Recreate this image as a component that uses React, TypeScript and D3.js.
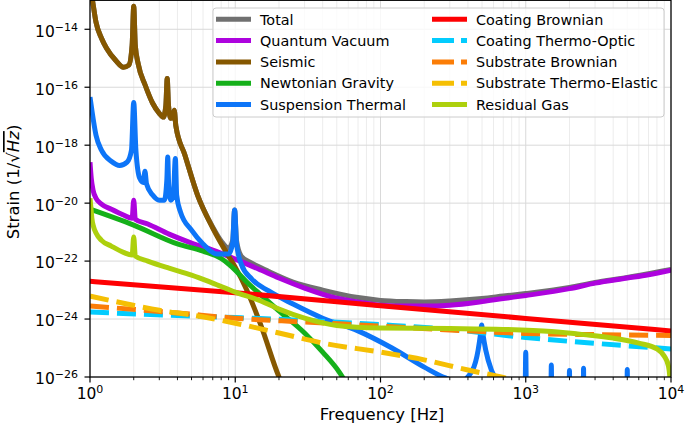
import React from 'react';
import * as d3 from 'd3';

type Pt = [number, number]; // [frequency (Hz), strain (1/sqrt(Hz))]

const total: Pt[] = [
  [1.0, 3.3e-13], [1.04, 1.0e-13], [1.1, 1.74e-14], [1.2, 4.9e-15], [1.3, 2.2e-15], [1.5, 8.5e-16],
  [1.7, 4.9e-16], [1.85, 5.8e-16], [1.95, 2.8e-15], [2.0, 6.2e-14], [2.05, 2.8e-15], [2.15, 6.2e-16],
  [2.4, 1.17e-16], [2.7, 2.8e-17], [3.0, 1.26e-17], [3.2, 9.3e-18], [3.33, 2.4e-17], [3.4, 2.0e-16],
  [3.47, 2.4e-17], [3.6, 8.5e-18], [3.72, 9.3e-18], [3.8, 1.62e-17], [3.9, 4.6e-18], [4.5, 4.6e-19],
  [5.5, 1.9e-20], [7.0, 1.48e-21], [8.0, 4.9e-22], [9.0, 2.8e-22], [9.6, 5.2e-22], [9.9, 5.8e-21],
  [10.2, 5.2e-22], [11, 1.48e-22], [13, 8.5e-23], [17, 4.4e-23], [25, 1.9e-23], [40, 1.0e-23],
  [70, 5.5e-24], [100, 4.4e-24], [150, 4.0e-24], [200, 3.9e-24], [300, 4.2e-24], [500, 5.1e-24],
  [700, 6.2e-24], [1000, 7.6e-24], [2000, 1.23e-23], [3000, 1.82e-23], [5000, 2.7e-23], [10000, 5.1e-23],
];

const quantumVacuum: Pt[] = [
  [1.0, 2.6e-19], [1.02, 7.2e-20], [1.05, 2.8e-20], [1.1, 1.48e-20], [1.2, 9.3e-21], [1.4, 6.2e-21],
  [1.7, 3.9e-21], [1.95, 3.0e-21], [2.0, 1.26e-20], [2.05, 2.8e-21], [2.5, 1.9e-21], [3.5, 8.5e-22],
  [5, 4.2e-22], [7, 2.4e-22], [10, 1.17e-22], [15, 4.9e-23], [20, 2.6e-23], [30, 1.17e-23],
  [50, 5.2e-24], [70, 3.9e-24], [100, 3.0e-24], [150, 2.8e-24], [200, 2.8e-24], [300, 3.0e-24],
  [500, 4.0e-24], [700, 5.1e-24], [1000, 6.5e-24], [2000, 1.12e-23], [3000, 1.74e-23], [5000, 2.6e-23],
  [7000, 3.4e-23], [10000, 4.9e-23],
];

const seismic: Pt[] = [
  [1.0, 3.3e-13], [1.04, 1.0e-13], [1.1, 1.74e-14], [1.2, 4.9e-15], [1.3, 2.2e-15], [1.5, 8.5e-16],
  [1.7, 4.9e-16], [1.85, 5.8e-16], [1.95, 2.8e-15], [2.0, 6.2e-14], [2.05, 2.8e-15], [2.15, 6.2e-16],
  [2.4, 1.17e-16], [2.7, 2.8e-17], [3.0, 1.26e-17], [3.2, 9.3e-18], [3.33, 2.4e-17], [3.4, 2.0e-16],
  [3.47, 2.4e-17], [3.6, 8.5e-18], [3.72, 9.3e-18], [3.8, 1.62e-17], [3.9, 4.6e-18], [4.5, 4.6e-19],
  [5.5, 1.9e-20], [7.0, 1.38e-21], [9.0, 1.48e-22], [10, 6.2e-23], [12, 1.0e-23], [15, 6.2e-25],
  [20, 1.0e-26], [24, 1.4e-27],
];

const newtonianGravity: Pt[] = [
  [1.0, 6.2e-21], [2.0, 1.74e-21], [4, 3.9e-22], [6, 2.2e-22], [8, 1.23e-22], [9, 7.9e-23],
  [10, 4.9e-23], [12, 1.9e-23], [15, 6.8e-24], [20, 1.9e-24], [30, 3.3e-25], [40, 7.2e-26],
  [52, 1.48e-26], [58, 6.2e-27],
];

const suspensionThermal: Pt[] = [
  [1.0, 4.6e-17], [1.03, 1.62e-17], [1.1, 2.2e-18], [1.2, 6.7e-19], [1.4, 2.8e-19], [1.6, 2.0e-19],
  [1.8, 2.6e-19], [1.93, 6.7e-19], [2.0, 3.0e-17], [2.07, 6.7e-19], [2.2, 7.2e-20], [2.33, 5.2e-20],
  [2.39, 1.26e-19], [2.45, 4.6e-20], [2.7, 1.9e-20], [3.0, 1.26e-20], [3.25, 1.26e-20], [3.38, 6.2e-20],
  [3.43, 3.9e-19], [3.48, 4.2e-20], [3.6, 1.26e-20], [3.75, 1.9e-20], [3.87, 3.5e-19], [3.95, 1.9e-20],
  [4.2, 4.9e-21], [5, 1.17e-21], [6, 3.9e-22], [7.5, 1.74e-22], [9.0, 1.74e-22], [9.6, 4.2e-22],
  [9.9, 5.8e-21], [10.2, 4.2e-22], [11, 7.9e-23], [13, 2.4e-23], [17, 9.3e-24], [25, 3.3e-24],
  [40, 1.07e-24], [70, 3.9e-25], [120, 1.0e-25], [200, 2.2e-26], [280, 9.3e-27], [350, 6.8e-27],
  [430, 1.74e-26], [470, 8.5e-26], [490, 3.5e-25], [497, 6.2e-25], [505, 3.5e-25], [530, 8.5e-26],
  [580, 1.74e-26], [650, 6.8e-27], [800, 2.4e-27], [990, 3.5e-27], [1000, 7.2e-26], [1010, 3.5e-27],
  [1250, 1.6e-27], [1490, 2.6e-27], [1500, 2.6e-26], [1510, 2.6e-27], [1750, 1.6e-27], [1990, 2.6e-27],
  [2000, 1.66e-26], [2010, 2.6e-27], [2250, 1.6e-27], [2490, 2.6e-27], [2500, 2.0e-26], [2510, 2.6e-27],
  [3500, 1.4e-27], [4980, 2.6e-27], [5000, 1.8e-26], [5020, 2.6e-27], [7000, 1.4e-27], [10000, 1.4e-27],
];

const coatingBrownian: Pt[] = [
  [1, 2.0e-23], [10, 8.1e-24], [100, 2.9e-24], [1000, 1.05e-24], [10000, 3.9e-25],
];

const coatingThermoOptic: Pt[] = [
  [1, 1.74e-24], [4, 1.32e-24], [10, 1.12e-24], [30, 8.9e-25], [100, 6.4e-25], [300, 4.4e-25],
  [1000, 2.3e-25], [3000, 1.45e-25], [10000, 9.3e-26],
];

const substrateBrownian: Pt[] = [
  [1, 2.8e-24], [4, 1.62e-24], [10, 1.07e-24], [30, 7.9e-25], [100, 5.7e-25], [300, 4.2e-25],
  [1000, 3.2e-25], [3000, 2.9e-25], [10000, 2.7e-25],
];

const substrateThermoElastic: Pt[] = [
  [1, 6.2e-24], [1.8, 3.3e-24], [3, 2.0e-24], [5, 1.38e-24], [10, 7.2e-25], [20, 3.3e-25],
  [40, 1.48e-25], [100, 7.2e-26], [200, 3.9e-26], [400, 1.74e-26], [700, 9.6e-27], [1000, 6.2e-27],
];

const residualGas: Pt[] = [
  [1.0, 1.48e-20], [1.015, 6.8e-21], [1.03, 3.0e-21], [1.06, 1.48e-21], [1.1, 9.3e-22], [1.2, 5.2e-22],
  [1.4, 3.3e-22], [1.7, 2.0e-22], [1.95, 1.62e-22], [2.0, 6.8e-22], [2.05, 1.48e-22], [2.5, 1.0e-22],
  [3.5, 5.7e-23], [5, 3.3e-23], [7, 1.74e-23], [10, 8.5e-24], [15, 4.2e-24], [20, 2.2e-24],
  [30, 1.07e-24], [50, 6.0e-25], [100, 4.9e-25], [300, 4.7e-25], [700, 4.4e-25], [1500, 3.7e-25],
  [2500, 2.9e-25], [4000, 2.2e-25], [6000, 1.48e-25], [8000, 9.3e-26], [9000, 5.2e-26], [9600, 2.4e-26],
  [9850, 7.9e-27], [10000, 1.6e-27],
];

const seriesLabels = [
  'Total', 'Quantum Vacuum', 'Seismic', 'Newtonian Gravity', 'Suspension Thermal',
  'Coating Brownian', 'Coating Thermo-Optic', 'Substrate Brownian', 'Substrate Thermo-Elastic', 'Residual Gas',
];
const xTickExponents = [0, 1, 2, 3, 4];
const yTickExponents = [-26, -24, -22, -20, -18, -16, -14];

// ---- styling / layout ----
const W = 685;
const H = 432;
const PL = 90, PR = 671, PT = 0.3, PB = 377;
const COLORS = ['#707070', '#ad03de', '#855700', '#15b01a', '#0d75f8', '#fe0002', '#02ccfe', '#fb7d07', '#f5bf03', '#add00d'];
const DASHED = [false, false, false, false, false, false, true, true, true, false];
const FONT = 'DejaVu Sans, sans-serif';
const LW = 5;

export default function App() {
  const series = [total, quantumVacuum, seismic, newtonianGravity, suspensionThermal,
    coatingBrownian, coatingThermoOptic, substrateBrownian, substrateThermoElastic, residualGas];

  const x = d3.scaleLog().domain([1, 1e4]).range([PL, PR]);
  const y = d3.scaleLog().domain([1e-26, 1e-13]).range([PB, PT]);
  const line = d3.line<Pt>().x(d => x(d[0])).y(d => y(d[1])).curve(d3.curveMonotoneX);

  const minorX: number[] = [];
  for (let e = 0; e < 4; e++) for (let k = 2; k <= 9; k++) minorX.push(k * Math.pow(10, e));

  const legendRowY = (i: number) => 19.3 + i * 21.3;

  return (
    <svg width={W} height={H} style={{ position: 'absolute', left: 0, top: 0, background: '#fff' }}
      fontFamily={FONT}>
      <defs>
        <clipPath id="plotclip">
          <rect x={PL} y={PT} width={PR - PL} height={PB - PT} />
        </clipPath>
      </defs>
      {/* grid */}
      <g>
        {minorX.map((f, i) => (
          <line key={'mg' + i} x1={x(f)} x2={x(f)} y1={PT} y2={PB} stroke="#ececec" strokeWidth={1} />
        ))}
        {xTickExponents.map(e => (
          <line key={'xg' + e} x1={x(Math.pow(10, e))} x2={x(Math.pow(10, e))} y1={PT} y2={PB} stroke="#d9d9d9" strokeWidth={1} />
        ))}
        {yTickExponents.map(e => (
          <line key={'yg' + e} x1={PL} x2={PR} y1={y(Math.pow(10, e))} y2={y(Math.pow(10, e))} stroke="#d9d9d9" strokeWidth={1} />
        ))}
      </g>
      {/* curves */}
      <g clipPath="url(#plotclip)">
        {series.map((s, i) => (
          <path key={'s' + i} d={line(s) || ''} fill="none" stroke={COLORS[i]} strokeWidth={LW}
            strokeLinejoin="round" strokeLinecap="butt"
            strokeDasharray={DASHED[i] ? '19 8' : undefined} />
        ))}
      </g>
      {/* spines */}
      <rect x={PL} y={PT} width={PR - PL} height={PB - PT} fill="none" stroke="#000" strokeWidth={1.25} />
      {/* x ticks */}
      {minorX.map((f, i) => (
        <line key={'mt' + i} x1={x(f)} x2={x(f)} y1={PB} y2={PB + 3.2} stroke="#000" strokeWidth={0.9} />
      ))}
      {xTickExponents.map(e => (
        <g key={'xt' + e}>
          <line x1={x(Math.pow(10, e))} x2={x(Math.pow(10, e))} y1={PB} y2={PB + 5.5} stroke="#000" strokeWidth={1.2} />
          <text x={x(Math.pow(10, e))} y={399} textAnchor="middle" fontSize={15.5} fill="#000">
            10<tspan dy={-6} fontSize={11}>{String(e)}</tspan>
          </text>
        </g>
      ))}
      {/* y ticks */}
      {yTickExponents.map(e => (
        <g key={'yt' + e}>
          <line x1={PL - 5.5} x2={PL} y1={y(Math.pow(10, e))} y2={y(Math.pow(10, e))} stroke="#000" strokeWidth={1.2} />
          <text x={78} y={y(Math.pow(10, e)) + 7.4} textAnchor="end" fontSize={15.5} fill="#000">
            10<tspan dy={-6} fontSize={11}>{'\u2212' + String(-e)}</tspan>
          </text>
        </g>
      ))}
      {/* axis labels */}
      <text x={382} y={420} textAnchor="middle" fontSize={16.5} fill="#000">Frequency [Hz]</text>
      <text transform="translate(19,182) rotate(-90)" textAnchor="middle" fontSize={16.5} fill="#000">
        Strain (1/√<tspan fontStyle="italic" textDecoration="overline">Hz</tspan>)
      </text>
      {/* legend */}
      <rect x={213} y={8} width={451} height={109} rx={3} fill="#fff" fillOpacity={0.8} stroke="#cccccc" strokeWidth={1} />
      {seriesLabels.map((name, i) => {
        const col = i < 5 ? 0 : 1;
        const row = i % 5;
        const hx = col === 0 ? 216 : 432;
        const ty = legendRowY(row);
        return (
          <g key={'lg' + i}>
            <line x1={hx} x2={hx + 35} y1={ty} y2={ty} stroke={COLORS[i]} strokeWidth={LW}
              strokeDasharray={DASHED[i] ? '22 7' : undefined} />
            <text x={hx + 44} y={ty + 5.2} fontSize={14.4} fill="#000">{name}</text>
          </g>
        );
      })}
    </svg>
  );
}
